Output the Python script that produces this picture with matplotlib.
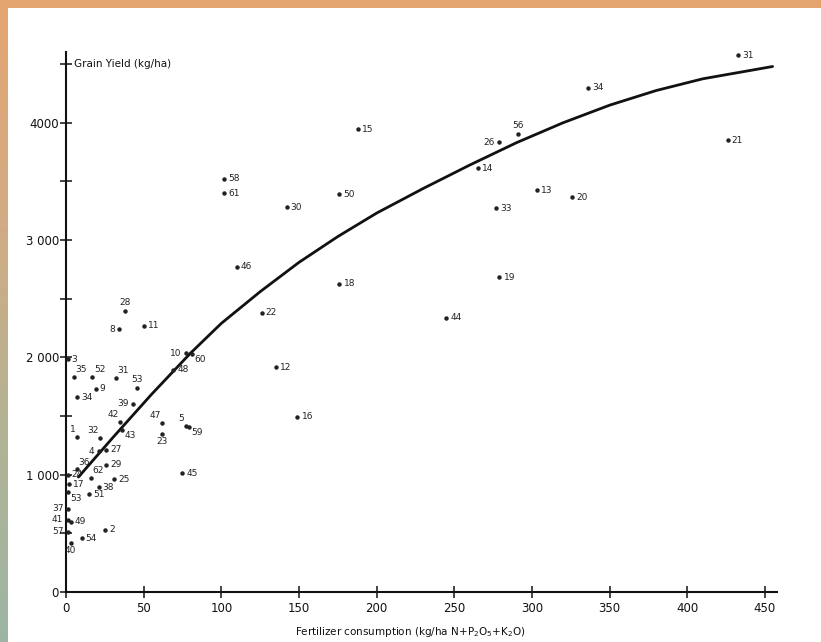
import numpy as np
import matplotlib
matplotlib.use("Agg")
import matplotlib.pyplot as plt
from matplotlib.colors import LinearSegmentedColormap

# ---- data ----
labels = ["31", "34", "56", "26", "14", "13", "20", "33", "19", "44", "21", "15",
          "58", "61", "30", "50", "46", "18", "22", "12", "16",
          "28", "8", "11", "10", "60", "48", "53", "31", "39", "42", "43",
          "47", "5", "59", "23", "45",
          "3", "35", "52", "9", "34", "1", "32", "4", "27", "36", "29", "62",
          "25", "38", "24", "17", "53", "51", "37", "41", "49", "57", "2", "54", "40"]
fert = [433, 336, 291, 279, 265, 303, 326, 277, 279, 245, 426, 188,
        102, 102, 142, 176, 110, 176, 126, 135, 149,
        38, 34, 50, 77, 81, 69, 46, 32, 43, 35, 36,
        62, 77, 79, 62, 75,
        1, 5, 17, 19, 7, 7, 22, 21, 26, 7, 26, 16,
        31, 21, 1, 2, 1, 15, 1, 1, 3, 1, 25, 10, 3]
yield_ = [4578, 4297, 3904, 3836, 3614, 3427, 3367, 3273, 2685, 2336, 3853, 3947,
          3521, 3401, 3282, 3393, 2771, 2626, 2379, 1918, 1492,
          2396, 2242, 2268, 2037, 2029, 1893, 1739, 1824, 1603, 1449, 1381,
          1441, 1415, 1407, 1347, 1014,
          1986, 1833, 1833, 1731, 1662, 1321, 1313, 1202, 1211, 1045, 1083, 972,
          963, 895, 1000, 920, 850, 835, 708, 614, 597, 512, 529, 460, 418]
label_side = ["r", "r", "a", "l", "r", "r", "r", "r", "r", "r", "r", "r",
              "r", "r", "r", "r", "r", "r", "r", "r", "r",
              "a", "l", "r", "l", "br", "r", "a", "ar", "l", "al", "br",
              "al", "al", "br", "b", "r",
              "r", "ar", "ar", "r", "r", "al", "al", "l", "r", "ar", "r", "ar",
              "r", "r", "r", "r", "br", "r", "l", "l", "r", "l", "r", "r", "b"]

curve_x = [8, 30, 55, 80, 100, 125, 150, 175, 200, 230, 260, 290, 320, 350, 380, 410, 455]
curve_y = [980, 1314, 1684, 2034, 2290, 2560, 2810, 3030, 3230, 3440, 3640, 3830,
           4000, 4150, 4275, 4375, 4480]

x_ticks = [0, 50, 100, 150, 200, 250, 300, 350, 400, 450]
x_tick_labels = ["0", "50", "100", "150", "200", "250", "300", "350", "400", "450"]
y_ticks = [0, 500, 1000, 1500, 2000, 2500, 3000, 3500, 4000, 4500]
y_tick_labels = ["0", "", "1 000", "", "2 000", "", "3 000", "", "4000", ""]

# ---- figure ----
W, H = 821, 642
fig = plt.figure(figsize=(W / 100, H / 100), dpi=100)
fig.patch.set_facecolor("white")

# scan border: orange top band, gradient left strip
top = fig.add_axes([0, 1 - 8 / H, 1, 8 / H])
top.set_facecolor("#E4A470")
top.set_xticks([]); top.set_yticks([])
for s in top.spines.values():
    s.set_visible(False)
left = fig.add_axes([0, 0, 7 / W, 1])
cmap = LinearSegmentedColormap.from_list("edge", ["#E4A470", "#D2AB83", "#B3B394", "#9CB6A4"])
left.imshow(np.linspace(0, 1, 256).reshape(-1, 1), aspect="auto", cmap=cmap)
left.set_axis_off()

x0, x1 = 66, 777
y0, y1 = 592, 52
ax = fig.add_axes([x0 / W, 1 - y0 / H, (x1 - x0) / W, (y0 - y1) / H])
ax.set_xlim(0, (x1 - x0) / 1.553)
ax.set_ylim(0, (y0 - y1) / 0.1173)
ax.patch.set_alpha(0)
for side in ("top", "right"):
    ax.spines[side].set_visible(False)
for side in ("left", "bottom"):
    ax.spines[side].set_linewidth(1.5)
    ax.spines[side].set_color("#111111")

ax.set_xticks(x_ticks)
ax.set_xticklabels(x_tick_labels)
ax.set_yticks(y_ticks)
ax.set_yticklabels(y_tick_labels)
ax.tick_params(axis="both", direction="inout", length=8, width=1.1, colors="#111111",
               labelsize=8.5)
ax.tick_params(axis="y", pad=1)
ax.tick_params(axis="x", pad=3)

# curve
ax.plot(curve_x, curve_y, color="#111111", lw=2.0, solid_capstyle="round",
        solid_joinstyle="round", zorder=3)

# points
ax.plot(fert, yield_, ls="none", marker="o", ms=2.2, color="#222222", zorder=4)
offs = {"r": (3, 0, "left", "center"), "l": (-3, 0, "right", "center"),
        "a": (0, 3, "center", "bottom"), "b": (0, -2, "center", "top"),
        "ar": (1, 2, "left", "bottom"), "al": (-1, 2, "right", "bottom"),
        "br": (2, -1, "left", "top")}
for lab, xv, yv, sd in zip(labels, fert, yield_, label_side):
    dx, dy, ha, va = offs[sd]
    ax.annotate(lab, (xv, yv), xytext=(dx, dy), textcoords="offset points",
                ha=ha, va=va, fontsize=6.5, color="#222222", zorder=5)

ax.annotate("Grain Yield (kg/ha)", (0, 4500), xytext=(6, 0), textcoords="offset points",
            ha="left", va="center", fontsize=7.5, color="#111111")
fig.text(410 / W, 1 - 632 / H, "Fertilizer consumption (kg/ha N+P$_2$O$_5$+K$_2$O)",
         ha="center", va="center", fontsize=7.5, color="#111111")

fig.savefig("out.png", dpi=100)
